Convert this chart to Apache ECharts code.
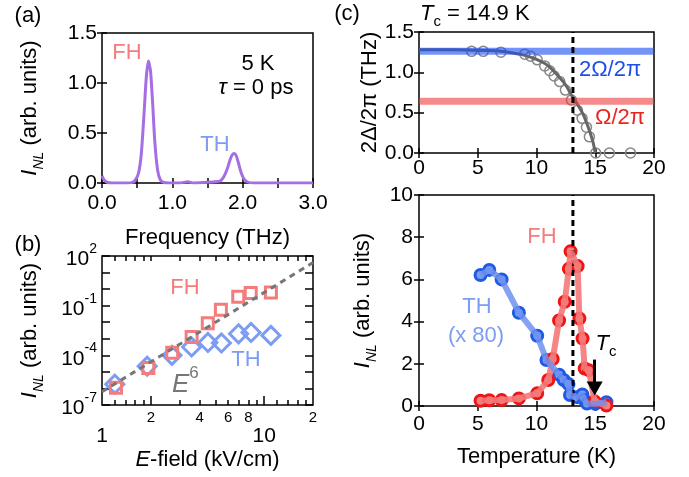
<!DOCTYPE html>
<html>
<head>
<meta charset="utf-8">
<script src="https://cdn.jsdelivr.net/npm/echarts@6/dist/echarts.min.js"></script>
<style>
  html, body { margin: 0; padding: 0; background: #fff; }
  #chart { width: 689px; height: 477px; }
</style>
</head>
<body>
<div id="chart"></div>
<script>
const FONT = '"Liberation Sans", Arial, Helvetica, sans-serif';
const PINK = '#f47c7c';
const LIGHT_BLUE = '#7d9cf3';

// (a) nonlinear spectrum at 5 K
const freqTHz = [0, 0.03, 0.08, 0.15, 0.3, 0.42, 0.47, 0.52, 0.56, 0.6, 0.63, 0.66, 0.69, 0.72, 0.75, 0.79, 0.83, 0.88, 0.95, 1.1,
    1.22, 1.3, 1.45, 1.6, 1.68, 1.73, 1.78, 1.82, 1.85, 1.88, 1.91, 1.94, 1.98, 2.02, 2.07, 2.15, 2.4, 2.7, 3.0];
const spectrum = [0.07, 0.03, 0.005, 0, 0, 0.004, 0.025, 0.1, 0.3, 0.72, 1.06, 1.22, 1.12, 0.8, 0.42, 0.13, 0.03, 0.005, 0, 0,
    0.012, 0, 0.005, 0.012, 0.02, 0.06, 0.14, 0.23, 0.28, 0.295, 0.27, 0.2, 0.1, 0.04, 0.01, 0, 0, 0, 0];

// (b) field dependence, log-log
const fhField = [1.22, 1.93, 2.71, 3.57, 4.49, 5.41, 6.92, 8.26, 11.0];
const fhIntensity = [1.1e-6, 1.7e-5, 1.45e-4, 1.26e-3, 8.7e-3, 5.75e-2, 0.35, 0.58, 0.63];
const thField = [1.2, 1.9, 2.7, 3.57, 4.5, 5.45, 6.95, 8.3, 11.0];
const thIntensity = [1.8e-6, 2.2e-5, 1.0e-4, 3.2e-4, 6.0e-4, 5.6e-4, 2.0e-3, 2.4e-3, 1.6e-3];
const e6Field = [1, 20];
const e6Intensity = [6.3e-7, 40];
const fieldMinorTicks = [1.2, 1.4, 1.6, 1.8, 3, 4, 5, 6, 7, 8, 9, 12, 14, 16, 18];
const fieldAllTicks = [1.2, 1.4, 1.6, 1.8, 2, 3, 4, 5, 6, 7, 8, 9, 10, 12, 14, 16, 18];
const fieldSmallLabels = [2, 4, 6, 8, 20];
const fieldBigLabels = [1, 10];
const decadeTicks = [1e-7, 1e-6, 1e-5, 1e-4, 1e-3, 1e-2, 1e-1, 1, 10, 100];
const decadeLabels = [1e-7, 1e-4, 1e-1, 100];

// (c) gap vs temperature
const gapTemp = [4.48, 5.47, 6.97, 9.0, 9.5, 10.06, 10.7, 11.13, 11.5, 11.98, 12.46, 12.97, 13.48, 13.88, 14.25, 14.5, 15.04, 16.2, 18.0];
const gapValue = [1.26, 1.26, 1.25, 1.225, 1.2, 1.155, 1.08, 1.02, 0.955, 0.885, 0.78, 0.656, 0.53, 0.43, 0.32, 0.2, 0.0, 0.0, 0.0];
const fitTemp = [0, 2, 4, 6, 7, 8, 9, 10, 11, 12, 12.5, 13, 13.5, 14, 14.5, 14.8, 15];
const fitGap = [1.28, 1.28, 1.277, 1.27, 1.26, 1.24, 1.21, 1.16, 1.08, 0.93, 0.84, 0.71, 0.6, 0.47, 0.28, 0.14, 0];
const omega2 = 1.26;
const omega1 = 0.64;
const dashTemp = 13.1;

// (c) harmonics vs temperature
const thTemp = [5.24, 5.98, 7.03, 8.5, 10.06, 10.85, 11.93, 12.32, 12.72, 12.85, 13.45, 13.9, 14.05, 14.3, 15.0, 15.95];
const thSignal = [6.21, 6.45, 6.0, 4.42, 3.33, 2.18, 1.48, 1.23, 1.04, 0.52, 0.42, 0.55, 0.3, 0.12, 0.1, 0.18];
const fhTemp = [5.24, 5.98, 7.03, 8.5, 10.06, 11.0, 11.38, 11.92, 12.4, 12.75, 12.9, 13.5, 13.65, 13.92, 14.1, 14.45, 14.95, 15.95];
const fhSignal = [0.25, 0.27, 0.28, 0.36, 0.6, 1.23, 2.23, 4.05, 4.94, 6.5, 7.33, 6.63, 4.15, 3.2, 1.78, 1.7, 0.22, 0.02];
const tcArrow = [[14.95, 2.2], [14.95, 0.83]];

const pairs = (xs, ys) => xs.map((x, i) => [x, ys[i]]);

const tickStyle = { color: '#000', width: 1.5 };
const labelBase = { color: '#000', fontFamily: FONT, fontSize: 21 };
const nameBase = { color: '#000', fontFamily: FONT, fontSize: 22 };
const inlRich = {
    it: { fontStyle: 'italic', fontSize: 22, fontFamily: FONT, color: '#000', padding: [0, 0, 5, 0], verticalAlign: 'top' },
    sub: { fontStyle: 'italic', fontSize: 14, fontFamily: FONT, color: '#000', verticalAlign: 'bottom' },
    t: { fontSize: 22, fontFamily: FONT, color: '#000', padding: [0, 0, 5, 0], verticalAlign: 'top' }
};

function linAxis(grid, pos, min, max, interval, label, extra) {
    const ax = {
        gridIndex: grid, type: 'value', position: pos, min: min, max: max, interval: interval,
        axisLine: { show: false },
        axisTick: { show: true, inside: true, length: 5, lineStyle: tickStyle },
        splitLine: { show: false },
        axisLabel: label ? Object.assign({ show: true }, labelBase, label) : { show: false }
    };
    return Object.assign(ax, extra || {});
}

function logAxis(grid, pos, min, max, ticks, tickLen, label, extra) {
    const ax = {
        gridIndex: grid, type: 'log', logBase: 10, position: pos, min: min, max: max,
        axisLine: { show: false },
        axisTick: { show: true, inside: true, length: tickLen, lineStyle: tickStyle, customValues: ticks },
        minorTick: { show: false },
        splitLine: { show: false },
        axisLabel: label ? Object.assign({ show: true }, labelBase, label) : { show: false }
    };
    return Object.assign(ax, extra || {});
}

const oneDecimal = v => v.toFixed(1);

const xAxes = [
    // (a)
    linAxis(0, 'bottom', 0, 3, 0.5, { margin: 10, formatter: v => (v % 1 === 0 ? v.toFixed(1) : '') }, {
        name: 'Frequency (THz)', nameLocation: 'middle', nameGap: 44, nameTextStyle: nameBase
    }),
    linAxis(0, 'top', 0, 3, 0.5, null),
    // (b)
    logAxis(1, 'bottom', 1, 20, fieldMinorTicks, 5, {
        customValues: fieldSmallLabels, fontSize: 15, margin: 5,
        formatter: v => (Math.round(v) === 20 ? '2' : String(Math.round(v)))
    }),
    logAxis(1, 'bottom', 1, 20, [2, 10], 9, {
        customValues: fieldBigLabels, margin: 21, formatter: v => String(Math.round(v))
    }, {
        name: '{it|E}{t|-field (kV/cm)}', nameLocation: 'middle', nameGap: 44,
        nameTextStyle: Object.assign({}, nameBase, {
            rich: {
                it: { fontStyle: 'italic', fontSize: 22, fontFamily: FONT, color: '#000' },
                t: { fontSize: 22, fontFamily: FONT, color: '#000' }
            }
        })
    }),
    logAxis(1, 'top', 1, 20, fieldAllTicks, 5, null),
    // (c) top
    linAxis(2, 'bottom', 0, 20, 5, { margin: 5 }),
    linAxis(2, 'top', 0, 20, 5, null),
    // (c) bottom
    linAxis(3, 'bottom', 0, 20, 5, { margin: 8 }, {
        name: 'Temperature (K)', nameLocation: 'middle', nameGap: 40, nameTextStyle: nameBase
    }),
    linAxis(3, 'top', 0, 20, 5, null)
];

const yAxes = [
    // (a)
    linAxis(0, 'left', 0, 1.5, 0.5, { margin: 5, formatter: oneDecimal }, {
        name: '{it|I}{sub|NL}{t| (arb. units)}', nameLocation: 'middle', nameGap: 56,
        nameTextStyle: Object.assign({}, nameBase, { rich: inlRich })
    }),
    linAxis(0, 'right', 0, 1.5, 0.5, null),
    // (b)
    logAxis(1, 'left', 1e-7, 100, decadeTicks, 8, {
        customValues: decadeLabels, margin: 5,
        formatter: v => '{b|10}{s|' + Math.round(Math.log10(v)) + '}',
        rich: {
            b: { fontSize: 21, fontFamily: FONT, color: '#000', padding: [7, 0, 0, 0], verticalAlign: 'bottom' },
            s: { fontSize: 14, fontFamily: FONT, color: '#000', verticalAlign: 'top' }
        }
    }, {
        name: '{it|I}{sub|NL}{t| (arb. units)}', nameLocation: 'middle', nameGap: 56,
        nameTextStyle: Object.assign({}, nameBase, { rich: inlRich })
    }),
    logAxis(1, 'right', 1e-7, 100, decadeTicks, 8, null),
    // (c) top
    linAxis(2, 'left', 0, 1.5, 0.5, { margin: 5, formatter: oneDecimal }, {
        name: '2Δ/2π (THz)', nameLocation: 'middle', nameGap: 36, nameTextStyle: nameBase
    }),
    linAxis(2, 'right', 0, 1.5, 0.5, null),
    // (c) bottom
    linAxis(3, 'left', 0, 10, 2, { margin: 6 }, {
        name: '{it|I}{sub|NL}{t| (arb. units)}', nameLocation: 'middle', nameGap: 40,
        nameTextStyle: Object.assign({}, nameBase, { rich: inlRich })
    }),
    linAxis(3, 'right', 0, 10, 2, null)
];

const series = [
    // (a)
    {
        type: 'line', xAxisIndex: 0, yAxisIndex: 0, data: pairs(freqTHz, spectrum),
        symbol: 'none', smooth: 0.2, lineStyle: { color: '#a56ee3', width: 3 }
    },
    // (b)
    {
        type: 'line', xAxisIndex: 2, yAxisIndex: 2, data: pairs(e6Field, e6Intensity),
        symbol: 'none', lineStyle: { color: '#777', width: 3, type: [6, 5] }
    },
    {
        type: 'scatter', xAxisIndex: 2, yAxisIndex: 2, data: pairs(thField, thIntensity),
        symbol: 'diamond', symbolSize: 18,
        itemStyle: { color: 'rgba(255,255,255,0)', borderColor: LIGHT_BLUE, borderWidth: 3, opacity: 1 }
    },
    {
        type: 'scatter', xAxisIndex: 2, yAxisIndex: 2, data: pairs(fhField, fhIntensity),
        symbol: 'rect', symbolSize: 11,
        itemStyle: { color: 'rgba(255,255,255,0)', borderColor: PINK, borderWidth: 3, opacity: 1 }
    },
    // (c) top
    {
        type: 'line', xAxisIndex: 5, yAxisIndex: 4, data: pairs(fitTemp, fitGap),
        symbol: 'none', smooth: 0.3, lineStyle: { color: '#666', width: 3 }
    },
    {
        type: 'scatter', xAxisIndex: 5, yAxisIndex: 4, data: pairs(gapTemp, gapValue),
        symbol: 'circle', symbolSize: 10,
        itemStyle: { color: 'rgba(255,255,255,0)', borderColor: '#888', borderWidth: 1.5, opacity: 1 }
    },
    {
        type: 'line', xAxisIndex: 5, yAxisIndex: 4, data: [[0, omega2], [20, omega2]],
        symbol: 'none', lineStyle: { color: 'rgba(30,80,240,0.62)', width: 7 }
    },
    {
        type: 'line', xAxisIndex: 5, yAxisIndex: 4, data: [[0, omega1], [20, omega1]],
        symbol: 'none', lineStyle: { color: 'rgba(238,60,60,0.6)', width: 7 }
    },
    {
        type: 'line', xAxisIndex: 5, yAxisIndex: 4, data: [[dashTemp, 0], [dashTemp, 1.5]],
        symbol: 'none', lineStyle: { color: '#000', width: 3, type: [6, 4] }
    },
    // (c) bottom
    {
        type: 'line', xAxisIndex: 7, yAxisIndex: 6, data: [[dashTemp, 0], [dashTemp, 10]],
        symbol: 'none', lineStyle: { color: '#000', width: 3, type: [6, 4] },
        markLine: {
            silent: true, symbol: ['none', 'triangle'], symbolSize: [16, 14],
            label: { show: false },
            lineStyle: { color: '#000', width: 3, type: 'solid' },
            data: [[{ coord: tcArrow[0] }, { coord: tcArrow[1] }]]
        }
    },
    {
        type: 'line', xAxisIndex: 7, yAxisIndex: 6, data: pairs(fhTemp, fhSignal),
        symbol: 'none', lineStyle: { color: 'rgba(245,120,120,0.9)', width: 6 }
    },
    {
        type: 'line', xAxisIndex: 7, yAxisIndex: 6, data: pairs(thTemp, thSignal),
        symbol: 'none', lineStyle: { color: 'rgba(110,145,240,0.85)', width: 6 }
    },
    {
        type: 'scatter', xAxisIndex: 7, yAxisIndex: 6, data: pairs(thTemp, thSignal),
        symbol: 'circle', symbolSize: 11,
        itemStyle: { color: '#7c9cf2', borderColor: '#1d5ae6', borderWidth: 3, opacity: 1 }
    },
    {
        type: 'scatter', xAxisIndex: 7, yAxisIndex: 6, data: pairs(fhTemp, fhSignal),
        symbol: 'circle', symbolSize: 11,
        itemStyle: { color: '#f48080', borderColor: '#ee1515', borderWidth: 3, opacity: 1 }
    }
];

function txt(x, y, text, color, size, more) {
    return {
        type: 'text', x: x, y: y, z: 100,
        style: Object.assign({
            text: text, fill: color, fontFamily: FONT, fontSize: size,
            align: 'center', verticalAlign: 'middle'
        }, more || {})
    };
}

const tcRich = {
    it: { fontStyle: 'italic', fontSize: 22, fontFamily: FONT, fill: '#000', padding: [0, 0, 5, 0], verticalAlign: 'top' },
    sub: { fontSize: 15, fontFamily: FONT, fill: '#000', verticalAlign: 'bottom' },
    t: { fontSize: 22, fontFamily: FONT, fill: '#000', padding: [0, 0, 5, 0], verticalAlign: 'top' }
};

const graphics = [
    txt(28, 16, '(a)', '#000', 22),
    txt(28, 245, '(b)', '#000', 22),
    txt(347, 14, '(c)', '#000', 22),
    txt(420, 16, '{it|T}{sub|c}{t| = 14.9 K}', '#000', 22, { align: 'left', rich: tcRich }),
    txt(127, 53, 'FH', PINK, 22),
    txt(258, 64, '5 K', '#000', 22),
    txt(256, 88, '{it|τ}{t| = 0 ps}', '#000', 22, {
        rich: {
            it: { fontStyle: 'italic', fontSize: 22, fontFamily: FONT, fill: '#000' },
            t: { fontSize: 22, fontFamily: FONT, fill: '#000' }
        }
    }),
    txt(215, 145, 'TH', LIGHT_BLUE, 22),
    txt(185, 288, 'FH', PINK, 22),
    txt(246, 360, 'TH', LIGHT_BLUE, 22),
    txt(172, 381, '{it|E}{sup|6}', '#777', 25, {
        align: 'left',
        rich: {
            it: { fontStyle: 'italic', fontSize: 26, fontFamily: FONT, fill: '#777', padding: [7, 0, 0, 0], verticalAlign: 'bottom' },
            sup: { fontSize: 17, fontFamily: FONT, fill: '#777', verticalAlign: 'top' }
        }
    }),
    txt(610, 70, '2Ω/2π', '#1e50e6', 22),
    txt(620, 118, 'Ω/2π', '#e8261e', 22),
    txt(542, 237, 'FH', PINK, 22),
    txt(477, 307, 'TH', LIGHT_BLUE, 22),
    txt(476, 336, '(x 80)', LIGHT_BLUE, 22),
    txt(606, 346, '{it|T}{sub|c}', '#000', 22, { rich: tcRich })
];

const chart = echarts.init(document.getElementById('chart'), null, { renderer: 'canvas' });
chart.setOption({
    animation: false,
    backgroundColor: '#fff',
    grid: [
        { left: 102, top: 33, width: 211, height: 150, show: true, borderColor: '#000', borderWidth: 1.5 },
        { left: 102, top: 256, width: 211, height: 149, show: true, borderColor: '#000', borderWidth: 1.5 },
        { left: 419, top: 32, width: 235, height: 121, show: true, borderColor: '#000', borderWidth: 1.5 },
        { left: 419, top: 195, width: 235, height: 211, show: true, borderColor: '#000', borderWidth: 1.5 }
    ],
    xAxis: xAxes,
    yAxis: yAxes,
    series: series,
    graphic: graphics
});
</script>
</body>
</html>
